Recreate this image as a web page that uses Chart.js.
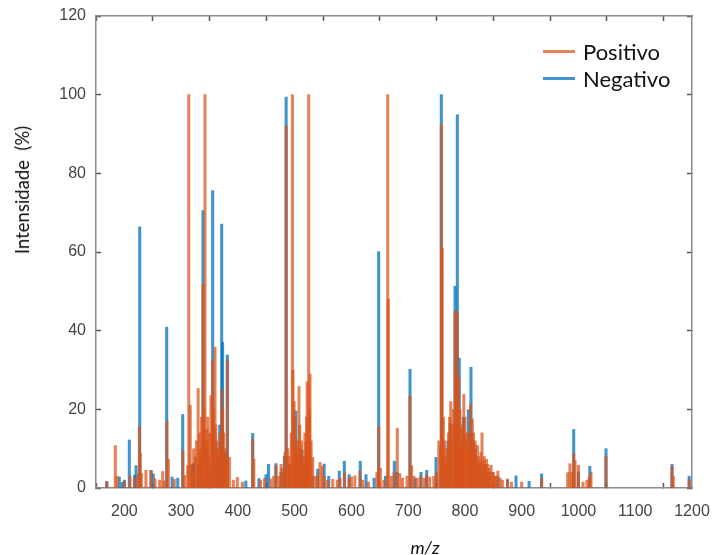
<!DOCTYPE html>
<html>
<head>
<meta charset="utf-8">
<script src="https://cdn.jsdelivr.net/npm/chart.js@4/dist/chart.umd.min.js"></script>
<style>
  body { margin: 0; background: #fff; }
  #wrap { position: relative; width: 713px; height: 555px; }
  #legend { position: absolute; left: 543px; top: 38px; font-family: Lato, "Open Sans", sans-serif; font-size: 22px; color: #111; }
  #legend div { display: flex; align-items: center; height: 27px; }
  #legend span.line { display: inline-block; width: 32px; height: 3px; margin-right: 8px; }
  .axis-title { position: absolute; font-family: Lato, sans-serif; color: #111; white-space: nowrap; }
  #ytitle { left: 22px; top: 190px; font-size: 18.5px; transform: translate(-50%, -50%) rotate(-90deg); }
  #xtitle { left: 425px; top: 547px; font-size: 18px; font-style: italic; transform: translate(-50%, -50%); }
</style>
</head>
<body>
<div id="wrap">
  <canvas id="ms-chart" width="713" height="555"></canvas>
  <div id="legend"></div>
  <div id="ytitle" class="axis-title">Intensidade&nbsp;&nbsp;(%)</div>
  <div id="xtitle" class="axis-title">m/z</div>
</div>
<script>
// m/z and relative intensity (%)
const posMz = [169, 184, 187, 200, 210, 218, 224, 226.5, 228, 230, 238, 247, 254, 262, 267.5, 270, 275, 277.4, 288,
  303, 306, 311.5, 313.5, 316, 320, 325, 330, 334, 338.5, 342, 345, 349, 352.6, 355.5, 359.6, 363, 367, 371.4, 375, 378,
  381.4, 385, 392, 399, 408, 426, 428, 440, 447, 458, 463, 467, 472, 476, 481, 483, 485, 488, 492, 496, 499, 502, 505,
  507.6, 510, 513, 516, 520, 522, 524.7, 527, 531.8, 536, 540, 544.6, 549, 552, 558, 567, 575, 580, 588, 596, 600, 606,
  615, 620, 630, 645, 648, 651, 657, 663.9, 665, 670, 675, 680.8, 685, 690, 698, 703, 706, 710, 716, 722, 728, 732, 738,
  745, 750, 754, 758.4, 760, 762, 765, 768, 771, 775, 778, 782.5, 786.6, 789, 792, 795, 798, 801, 804, 807, 810, 813,
  816, 819, 822, 826, 830, 834, 838, 842, 846, 850, 854, 858, 862, 866, 875, 882, 900, 935, 981, 985, 988, 991.6, 994,
  1000, 1008, 1015, 1019, 1022, 1048.5, 1164.8, 1167, 1195,
  318, 322, 327, 332, 336, 340, 344, 347, 350, 357, 361, 365, 369, 373, 377, 380,
  478, 490, 494, 497, 500, 504, 509, 512, 518, 521, 526, 529,
  757, 764, 767, 773, 776, 780, 784, 788, 791, 794, 796, 800, 803, 806, 809, 812, 815, 818, 821, 824, 828, 832, 836,
  840, 844, 848, 852];
const posInt = [1.5, 10.8, 3, 1.7, 3.1, 2.5, 3.5, 15.7, 8.8, 3.7, 4.5, 4.4, 2.3, 2, 4.2, 1.8, 17, 7.3, 2.2,
  9.5, 3.2, 5.7, 100, 21, 4, 8, 25.3, 9.8, 51.8, 100, 15, 8, 23.5, 32.3, 35.8, 12, 9, 25, 14, 6,
  32.5, 7.8, 2, 2.7, 1.5, 12.4, 7.3, 2, 2.5, 2.3, 3, 5.7, 3, 6, 4, 9, 92, 10, 6, 100, 22, 8, 12,
  25.8, 10, 6, 8, 11.6, 27, 100, 29, 7.8, 3, 3, 6.5, 5.6, 3, 2, 2.2, 2, 2.5, 3.9, 2.5, 2.8, 3.1,
  4.3, 2, 1.5, 4, 15.7, 5, 2, 100, 48, 3, 3.9, 15.2, 3.7, 2.5, 3, 23.4, 5.7, 3, 2.5, 3, 2.5, 3.3, 2.8,
  3, 4, 12, 92.3, 61, 18, 8, 10, 14, 22, 16, 45, 44.6, 28, 15, 12, 23.8, 12, 9, 14, 21.4, 17.6,
  11, 8, 10.8, 6, 14, 8, 7.3, 5, 5.8, 4, 3, 4.3, 2.5, 2, 2.3, 1.5, 1.5, 2.5, 3.9, 6.2, 4, 8.8, 7,
  5.8, 1.5, 2, 2.8, 4, 8, 5.5, 3, 2,
  6, 10, 12, 14, 18, 20, 12, 18, 14, 20, 16, 10, 14, 20, 10, 8,
  5, 8, 14, 30, 18, 10, 16, 12, 14, 18, 20, 12,
  10, 12, 6, 18, 12, 20, 30, 18, 20, 10, 16, 18, 14, 10, 12, 8, 14, 12, 6, 8, 9, 7, 6,
  6, 4, 4, 3];

const negMz = [169, 191, 196, 200, 208.7, 218, 220.5, 227, 247, 251, 274.5, 284, 294, 302.7, 320, 322, 330, 334, 338.5,
  345, 351, 355.5, 362, 368, 371.4, 373, 378, 381.4, 414, 426, 437, 449.5, 454, 467, 476, 481.8, 485, 491, 502, 506,
  513, 518, 522, 531, 540.6, 552, 560, 578.6, 587.5, 596, 615.6, 625.7, 640, 648, 660, 675.6, 680, 703.2, 712, 722.6,
  732.6, 749, 758.4, 762, 770, 774, 782.5, 786.6, 790, 797, 806, 810.6, 814, 818, 826, 834, 842, 858, 875, 890, 913,
  935, 991.6, 1000, 1020, 1048.5, 1164.8, 1195];
const negInt = [1.7, 2.8, 1.4, 2, 12.2, 3.3, 5.7, 66.4, 4.5, 3.6, 40.9, 2.8, 2.5, 18.7, 5.7, 6.2, 6, 8, 70.5,
  10, 4.5, 75.6, 10, 16, 67.1, 37, 9, 33.8, 1.8, 13.9, 2.4, 3.4, 6, 6.2, 4, 8, 99.4, 6, 19.6, 8,
  9.6, 5, 8, 3, 4.8, 6.1, 3, 4.3, 6.8, 3.4, 6.8, 3.4, 2.5, 60.1, 3, 6.8, 4, 30.2, 2.5, 4,
  4.5, 7.8, 100, 4.5, 12, 16.4, 51.3, 94.9, 33, 18, 19.9, 30.7, 12, 10, 6.5, 6, 4, 3, 2, 3.1, 1.7,
  3.6, 14.9, 4, 5.5, 10, 6, 3];

const seriesNames = ['Positivo', 'Negativo'];
const xTickValues = [200, 300, 400, 500, 600, 700, 800, 900, 1000, 1100, 1200];
const yTickValues = [0, 20, 40, 60, 80, 100, 120];

const orange = 'rgba(217, 83, 25, 0.72)';
const blue = 'rgba(0, 114, 189, 0.75)';
const frame = '#8c8c8c';

function toPoints(xs, ys) {
    return xs.map((x, i) => ({ x: x, y: ys[i] }));
}

// fixed box sizes so the plot frame lands where the original one is
function fixBox(w, h) {
    return s => {
        if (w !== null) s.width = w;
        if (h !== null) s.height = h;
        s.paddingLeft = 0;
        s.paddingRight = 0;
        s.paddingTop = 0;
        s.paddingBottom = 0;
    };
}

const tickFont = { family: "'Liberation Sans', Arial, sans-serif", size: 16 };
const tickGrid = { drawOnChartArea: false, tickLength: -5, tickColor: '#555', tickWidth: 1.5 };

const ctx = document.getElementById('ms-chart');
const msChart = new Chart(ctx, {
    type: 'bar',
    data: {
        datasets: [
            { label: seriesNames[0], data: toPoints(posMz, posInt), backgroundColor: orange, barThickness: 2.4, grouped: false },
            { label: seriesNames[1], data: toPoints(negMz, negInt), backgroundColor: blue, barThickness: 2.4, grouped: false }
        ]
    },
    options: {
        responsive: false,
        animation: false,
        layout: { padding: { top: 16, right: 21, left: 0, bottom: 0 } },
        plugins: { legend: { display: false }, tooltip: { enabled: false } },
        scales: {
            x: {
                type: 'linear',
                offset: false,
                min: 150,
                max: 1200,
                afterBuildTicks: s => { s.ticks = xTickValues.map(v => ({ value: v })); },
                afterFit: fixBox(null, 67),
                ticks: { color: '#444', font: tickFont, padding: 19, maxRotation: 0, callback: v => String(v) },
                grid: tickGrid,
                border: { color: frame, width: 1.5 }
            },
            x2: {
                type: 'linear',
                position: 'top',
                offset: false,
                min: 150,
                max: 1200,
                afterBuildTicks: s => { s.ticks = xTickValues.map(v => ({ value: v })); },
                afterFit: fixBox(null, 0),
                ticks: { display: false },
                grid: tickGrid,
                border: { color: frame, width: 1.5 }
            },
            y: {
                min: 0,
                max: 120,
                afterBuildTicks: s => { s.ticks = yTickValues.map(v => ({ value: v })); },
                afterFit: fixBox(96, null),
                ticks: { color: '#444', font: tickFont, padding: 15, callback: v => String(v) },
                grid: tickGrid,
                border: { color: frame, width: 1.5 }
            },
            y2: {
                position: 'right',
                min: 0,
                max: 120,
                afterBuildTicks: s => { s.ticks = yTickValues.map(v => ({ value: v })); },
                afterFit: fixBox(0, null),
                ticks: { display: false },
                grid: tickGrid,
                border: { color: frame, width: 1.5 }
            }
        }
    }
});

// legend drawn in html from the dataset labels and colours
const legendEl = document.getElementById('legend');
msChart.data.datasets.forEach(ds => {
    const row = document.createElement('div');
    row.innerHTML = '<span class="line" style="background:' + ds.backgroundColor + '"></span>' + ds.label;
    legendEl.appendChild(row);
});
</script>
</body>
</html>
